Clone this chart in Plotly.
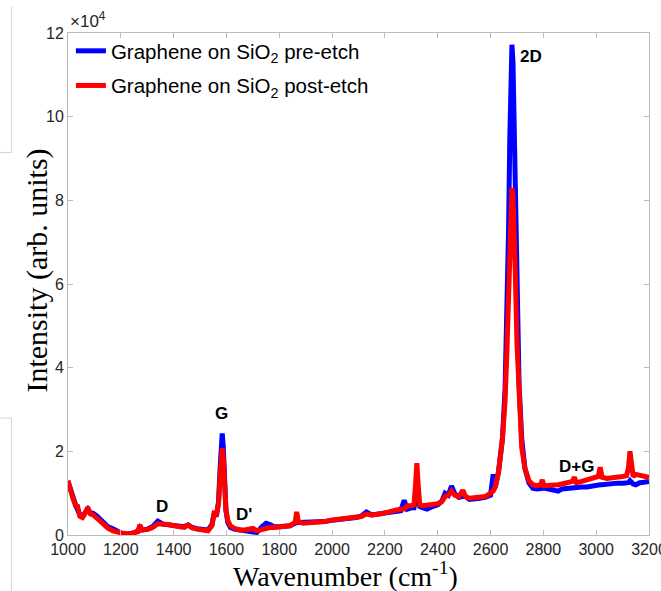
import plotly.graph_objects as go

# Raman spectra of graphene on SiO2, intensity in units of 1e4 counts
wavenumber = [
    1000, 1010, 1020, 1030, 1035, 1045, 1055, 1065, 1075, 1085, 1095, 1110, 1130, 1150,
    1170, 1190, 1210, 1230, 1250, 1265, 1272, 1280, 1300, 1320, 1340, 1360, 1380, 1400,
    1420, 1440, 1455, 1470, 1490, 1510, 1530, 1545, 1553, 1562, 1570, 1576, 1580, 1584,
    1588, 1592, 1598, 1605, 1615, 1630, 1650, 1670, 1690, 1700, 1715, 1735, 1750, 1765,
    1780, 1800, 1820, 1840, 1860, 1866, 1872, 1890, 1910, 1930, 1950, 1970, 2000, 2030,
    2060, 2090, 2110, 2130, 2150, 2180, 2210, 2240, 2260, 2273, 2285, 2300, 2310, 2316,
    2321, 2326, 2332, 2345, 2360, 2380, 2400, 2415, 2428, 2440, 2452, 2465, 2480, 2495,
    2505, 2520, 2540, 2560, 2580, 2600, 2610, 2618, 2630, 2645, 2655, 2662, 2668, 2673,
    2677, 2681, 2685, 2689, 2694, 2700, 2708, 2718, 2730, 2745, 2760, 2775, 2790, 2796,
    2802, 2820, 2840, 2856, 2870, 2890, 2910, 2917, 2925, 2945, 2965, 2985, 3000, 3008,
    3015, 3022, 3040, 3060, 3080, 3100, 3115, 3122, 3128, 3134, 3140, 3150, 3165, 3180,
    3200,
]

pre_etch = [
    1.28, 1.05, 0.85, 0.70, 0.62, 0.48, 0.45, 0.55, 0.62, 0.52, 0.52, 0.45, 0.32, 0.20,
    0.15, 0.08, 0.02, 0.03, 0.05, 0.10, 0.18, 0.12, 0.14, 0.20, 0.33, 0.26, 0.24, 0.22,
    0.20, 0.20, 0.24, 0.18, 0.15, 0.12, 0.12, 0.25, 0.50, 0.45, 0.80, 1.60, 2.25, 2.43,
    2.10, 1.30, 0.60, 0.30, 0.18, 0.14, 0.12, 0.10, 0.10, 0.10, 0.06, 0.20, 0.28, 0.25,
    0.20, 0.20, 0.22, 0.22, 0.28, 0.35, 0.30, 0.30, 0.30, 0.32, 0.30, 0.32, 0.35, 0.37,
    0.38, 0.42, 0.45, 0.55, 0.48, 0.50, 0.52, 0.57, 0.58, 0.83, 0.62, 0.65, 0.65, 0.90,
    1.20, 0.80, 0.68, 0.65, 0.62, 0.68, 0.72, 0.80, 1.00, 0.95, 1.17, 0.98, 0.90, 0.92,
    0.92, 0.85, 0.85, 0.88, 0.90, 0.95, 1.45, 1.15, 1.50, 2.30, 3.50, 5.00, 7.20, 9.50,
    11.00, 11.72, 11.30, 10.00, 7.80, 5.50, 3.60, 2.30, 1.60, 1.25, 1.12, 1.10, 1.12, 1.12,
    1.12, 1.10, 1.08, 1.05, 1.10, 1.12, 1.12, 1.12, 1.14, 1.15, 1.15, 1.18, 1.20, 1.20,
    1.20, 1.20, 1.22, 1.22, 1.24, 1.24, 1.25, 1.25, 1.30, 1.25, 1.22, 1.20, 1.25, 1.26,
    1.28,
]

post_etch = [
    1.30, 1.05, 0.85, 0.68, 0.72, 0.45, 0.42, 0.52, 0.66, 0.50, 0.48, 0.40, 0.28, 0.17,
    0.10, 0.06, 0.04, 0.02, 0.05, 0.08, 0.24, 0.12, 0.13, 0.18, 0.27, 0.27, 0.25, 0.22,
    0.20, 0.18, 0.24, 0.17, 0.14, 0.11, 0.10, 0.22, 0.52, 0.50, 0.75, 1.40, 1.90, 2.07,
    1.85, 1.20, 0.60, 0.35, 0.22, 0.16, 0.12, 0.12, 0.14, 0.16, 0.10, 0.14, 0.17, 0.18,
    0.18, 0.20, 0.21, 0.22, 0.30, 0.55, 0.32, 0.28, 0.29, 0.30, 0.30, 0.32, 0.36, 0.38,
    0.40, 0.42, 0.44, 0.50, 0.48, 0.50, 0.55, 0.58, 0.62, 0.62, 0.70, 0.70, 0.72, 1.20,
    1.72, 1.20, 0.72, 0.70, 0.72, 0.72, 0.75, 0.80, 0.92, 0.95, 1.05, 0.95, 0.92, 1.07,
    0.92, 0.88, 0.90, 0.90, 0.92, 1.00, 1.05, 1.15, 1.50, 2.30, 3.20, 4.40, 5.80, 7.10,
    7.90, 8.29, 8.10, 7.40, 6.20, 4.60, 3.20, 2.10, 1.60, 1.30, 1.20, 1.18, 1.20, 1.32,
    1.18, 1.18, 1.20, 1.20, 1.22, 1.25, 1.28, 1.38, 1.25, 1.28, 1.32, 1.35, 1.38, 1.40,
    1.62, 1.38, 1.35, 1.36, 1.38, 1.40, 1.42, 1.60, 2.00, 1.55, 1.40, 1.45, 1.42, 1.40,
    1.38,
]

peak_labels = ["D", "G", "D'", "2D", "D+G"]
peak_x = [1356, 1583, 1665, 2752, 2924]
peak_y = [0.68, 2.9, 0.5, 11.43, 1.64]

x_ticks = list(range(1000, 3201, 200))
y_ticks = list(range(0, 13, 2))

sans = "Liberation Sans, Arial, sans-serif"
serif = "Liberation Serif, Times New Roman, serif"
tick_font = dict(family=sans, size=16, color="#262626")
axis_color = "#bcbcbc"

fig = go.Figure()
fig.add_trace(go.Scatter(
    x=wavenumber, y=pre_etch, mode="lines",
    line=dict(color="#0000ff", width=5),
    name="Graphene on SiO<sub>2</sub> pre-etch", legendgroup="pre",
))
fig.add_trace(go.Scatter(
    x=wavenumber, y=post_etch, mode="lines",
    line=dict(color="#ff0000", width=5),
    name="Graphene on SiO<sub>2</sub> post-etch", legendgroup="post",
))

for lbl, px, py in zip(peak_labels, peak_x, peak_y):
    fig.add_annotation(
        x=px, y=py, text=f"<b>{lbl}</b>", showarrow=False,
        font=dict(family=sans, size=17, color="black"),
    )

# exponent marker for the intensity axis
fig.add_annotation(
    xref="paper", yref="paper", x=0.0, y=1.0, xanchor="left", yanchor="bottom",
    text="\u00d710<sup>4</sup>", showarrow=False,
    font=dict(family=sans, size=17, color="#262626"),
)

# axis titles
fig.add_annotation(
    xref="paper", yref="paper", x=0.477, y=-0.079, xanchor="center", yanchor="middle",
    text="Wavenumber (cm<sup>-1</sup>)", showarrow=False,
    font=dict(family=serif, size=28, color="black"),
)
fig.add_annotation(
    xref="paper", yref="paper", x=-0.054, y=0.526, xanchor="center", yanchor="middle",
    text="Intensity (arb. units)", showarrow=False, textangle=-90,
    font=dict(family=serif, size=30, color="black"),
)

# thin gray frame edges at the left border
edge = dict(color="#d4d4d4", width=1)
fig.add_shape(type="line", xref="paper", yref="paper", x0=-0.0975, x1=-0.0975,
              y0=1.052, y1=0.762, line=edge)
fig.add_shape(type="line", xref="paper", yref="paper", x0=-0.117, x1=-0.0975,
              y0=0.762, y1=0.762, line=edge)
fig.add_shape(type="line", xref="paper", yref="paper", x0=-0.117, x1=-0.0975,
              y0=0.233, y1=0.233, line=edge)
fig.add_shape(type="line", xref="paper", yref="paper", x0=-0.0975, x1=-0.0975,
              y0=0.233, y1=-0.115, line=edge)

fig.update_layout(
    width=661, height=591,
    margin=dict(l=68, r=12, t=33, b=56),
    paper_bgcolor="white", plot_bgcolor="white",
    showlegend=True,
    legend=dict(
        x=0.005, y=1.004, xanchor="left", yanchor="top",
        bgcolor="rgba(0,0,0,0)", borderwidth=0,
        font=dict(family=sans, size=20.5, color="black"),
        itemwidth=30, tracegroupgap=5,
    ),
    xaxis=dict(
        range=[1000, 3200], tickvals=x_ticks, ticktext=[str(v) for v in x_ticks],
        ticks="inside", ticklen=5, tickcolor=axis_color,
        showline=True, linecolor=axis_color, linewidth=1, mirror="ticks",
        showgrid=False, zeroline=False, tickfont=tick_font,
        ticklabeloverflow="allow", automargin=False,
    ),
    yaxis=dict(
        range=[0, 12], tickvals=y_ticks, ticktext=[str(v) for v in y_ticks],
        ticks="inside", ticklen=5, tickcolor=axis_color,
        showline=True, linecolor=axis_color, linewidth=1, mirror="ticks",
        showgrid=False, zeroline=False, tickfont=tick_font, automargin=False,
    ),
)

fig.write_html("out.html")
